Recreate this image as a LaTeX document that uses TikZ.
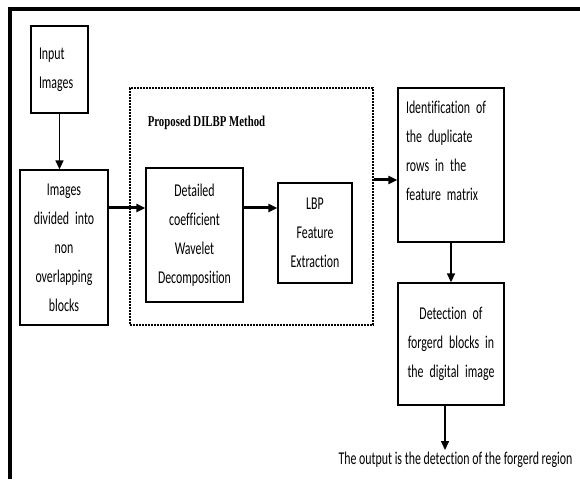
\documentclass[tikz,border=0pt]{standalone}
\usepackage{fontspec}
\setmainfont{Carlito}[FakeStretch=0.66,Ligatures={NoCommon}]
\newfontfamily\titulofont{Liberation Serif}[FakeStretch=0.72]
\usetikzlibrary{positioning,arrows.meta}

\begin{document}
\begin{tikzpicture}[x=1pt,y=1pt,
    bloque/.style={rectangle,draw,line width=1.3pt,inner sep=4pt,align=center,font=\fontsize{18}{29}\selectfont},
    flecha/.style={-{Triangle[length=9pt,width=8pt]},line width=1.5pt},
    flechag/.style={-{Triangle[length=9pt,width=8pt]},line width=3pt}]
    \useasboundingbox (0,0) rectangle (580,479);
    % marco
    \draw[line width=4pt] (10,0) -- (10,470) -- (580,470);

    \node[bloque,inner xsep=8pt,text width=41pt,minimum height=87pt,align=left] (inp) at (59.5,409.5) {Input\\Images};
    \node[bloque,text width=80pt,minimum height=155pt] (blk) at (64,231.5) {Images\\divided into\\non\\overlapping\\blocks};

    \node[draw,line width=2.6pt,dash pattern=on 1.6pt off 1.4pt,minimum width=243pt,minimum height=237pt,inner sep=0pt] (dil_box) at (251.5,272.5) {};
    \node[font=\titulofont\bfseries\fontsize{15}{18}\selectfont] (dil_label) at (206.5,356) {Proposed DILBP Method};
    \node[bloque,text width=89pt,minimum height=134pt] (det) at (194.5,244) {Detailed\\coefficient\\Wavelet\\Decomposition};
    \node[bloque,text width=66pt,minimum height=100pt] (lbp) at (315,246) {LBP\\Feature\\Extraction};

    \node[bloque,inner xsep=8pt,text width=90pt,minimum height=154pt,align=left] (idn) at (451,314) {Identification of\\the duplicate\\rows in the\\feature matrix\\\mbox{}};
    \node[bloque,text width=98pt,minimum height=122pt] (dtc) at (451,135) {Detection of\\forgerd blocks in\\the digital image};
    \node[font=\fontsize{18}{20}\selectfont,inner sep=2pt] (out) at (455.5,19) {The output is the detection of the forgerd region};

    \draw[flecha] (inp.south) -- (inp.south |- blk.north) ;
    \draw[flechag] ([yshift=39.5pt]blk.east) -- ([yshift=39.5pt]blk.east -| det.west) ;
    \draw[flechag] ([yshift=27pt]det.east) -- ([yshift=27pt]det.east -| lbp.west) ;
    \draw[flechag] ([yshift=26.5pt]dil_box.east) -- ([yshift=26.5pt]dil_box.east -| idn.west) ;
    \draw[flecha] (idn.south) -- (dtc.north) ;
    \draw[flecha] ([xshift=-6pt]dtc.south) -- ([xshift=-6pt]dtc.south |- out.north) ;
\end{tikzpicture}
\end{document}
